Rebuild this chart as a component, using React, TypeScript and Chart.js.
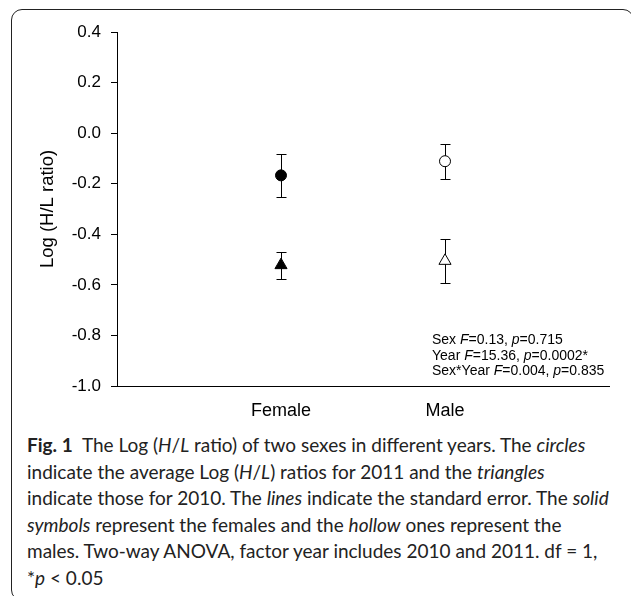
import React, { useEffect, useRef } from 'react';
import { Chart, registerables } from 'chart.js';

Chart.register(...registerables);

const categories = ['Female', 'Male'];
const mean2011 = [-0.167, -0.111];
const se2011 = [0.085, 0.07];
const mean2010 = [-0.522, -0.505];
const se2010 = [0.053, 0.087];
const yTicks = [0.4, 0.2, 0.0, -0.2, -0.4, -0.6, -0.8, -1.0];
const markerFill = ['#000000', '#ffffff'];

const errorBarPlugin = {
  id: 'errorBars',
  beforeDatasetsDraw(chart: any) {
    const ctx = chart.ctx;
    const yScale = chart.scales.y;
    ctx.save();
    ctx.strokeStyle = '#000';
    ctx.lineWidth = 1;
    chart.data.datasets.forEach((ds: any, di: number) => {
      const meta = chart.getDatasetMeta(di);
      meta.data.forEach((el: any, i: number) => {
        const v = ds.data[i].y;
        const e = ds.errors[i];
        const x = Math.round(el.x) + 0.5;
        const yTop = Math.round(yScale.getPixelForValue(v + e)) + 0.5;
        const yBot = Math.round(yScale.getPixelForValue(v - e)) + 0.5;
        const cap = 5;
        ctx.beginPath();
        ctx.moveTo(x, yTop);
        ctx.lineTo(x, yBot);
        ctx.moveTo(x - cap, yTop);
        ctx.lineTo(x + cap, yTop);
        ctx.moveTo(x - cap, yBot);
        ctx.lineTo(x + cap, yBot);
        ctx.stroke();
      });
    });
    ctx.restore();
  },
};

function ChartBox() {
  const ref = useRef<HTMLCanvasElement | null>(null);
  useEffect(() => {
    if (!ref.current) return;
    const chart = new Chart(ref.current, {
      type: 'scatter',
      data: {
        datasets: [
          {
            label: '2011',
            data: mean2011.map((v, i) => ({ x: i + 1, y: v })),
            errors: se2011,
            pointStyle: 'circle',
            pointRadius: 5.5,
            pointBackgroundColor: markerFill,
            pointBorderColor: '#000',
            pointBorderWidth: 1,
          } as any,
          {
            label: '2010',
            data: mean2010.map((v, i) => ({ x: i + 1, y: v })),
            errors: se2010,
            pointStyle: 'triangle',
            pointRadius: 7,
            pointBackgroundColor: markerFill,
            pointBorderColor: '#000',
            pointBorderWidth: 1,
          } as any,
        ],
      },
      options: {
        animation: false,
        responsive: false,
        maintainAspectRatio: false,
        layout: { padding: { top: 32, right: 22, left: 0, bottom: 0 } },
        plugins: {
          legend: { display: false },
          tooltip: { enabled: false },
        },
        scales: {
          x: {
            type: 'linear',
            min: 0,
            max: 3,
            afterFit: (axis: any) => {
              axis.height = 44;
            },
            afterBuildTicks: (axis: any) => {
              axis.ticks = categories.map((_, i) => ({ value: i + 1 }));
            },
            grid: { display: false, drawTicks: false },
            border: { display: true, color: '#000', width: 1 },
            ticks: {
              padding: 14,
              color: '#000',
              font: { family: '"Liberation Sans", Arial, sans-serif', size: 18 },
              callback: (v: any) => categories[Math.round(v) - 1] ?? '',
            },
          },
          y: {
            type: 'linear',
            min: -1.0,
            max: 0.4,
            afterFit: (axis: any) => {
              axis.width = 117;
            },
            afterBuildTicks: (axis: any) => {
              axis.ticks = yTicks.map((v) => ({ value: v }));
            },
            grid: {
              drawOnChartArea: false,
              drawTicks: true,
              tickLength: 6,
              color: '#000',
              lineWidth: 1,
            },
            border: { display: true, color: '#000', width: 1 },
            ticks: {
              padding: 10,
              color: '#000',
              font: { family: '"Liberation Sans", Arial, sans-serif', size: 17 },
              callback: (v: any) => Number(v).toFixed(1),
            },
            title: {
              display: true,
              text: 'Log (H/L ratio)',
              color: '#000',
              font: { family: '"Liberation Sans", Arial, sans-serif', size: 18.5 },
              padding: { top: 37, bottom: 0 },
            },
          },
        },
      } as any,
      plugins: [errorBarPlugin],
    });
    return () => chart.destroy();
  }, []);
  return (
    <canvas
      ref={ref}
      width={631}
      height={430}
      style={{ position: 'absolute', left: 0, top: 0, width: 631, height: 430 }}
    />
  );
}

const captionStyle: React.CSSProperties = {
  fontFamily: 'Lato, "Open Sans", sans-serif',
  fontSize: 19,
  lineHeight: '26.5px',
  color: '#222',
  whiteSpace: 'nowrap',
};

export default function App() {
  return (
    <div
      style={{
        position: 'fixed',
        left: 0,
        top: 0,
        width: 631,
        height: 596,
        overflow: 'hidden',
        background: '#fff',
      }}
    >
      <div
        style={{
          position: 'absolute',
          left: 11,
          top: 9,
          width: 623,
          height: 592,
          border: '1.3px solid #222',
          borderRadius: 11,
          boxSizing: 'border-box',
        }}
      />
      <ChartBox />
      <div
        style={{
          position: 'absolute',
          left: 432,
          top: 332,
          fontFamily: '"Liberation Sans", Arial, sans-serif',
          fontSize: 14,
          lineHeight: '15.5px',
          color: '#000',
          whiteSpace: 'nowrap',
        }}
      >
        <div>Sex <i>F</i>=0.13, <i>p</i>=0.715</div>
        <div>Year <i>F</i>=15.36, <i>p</i>=0.0002*</div>
        <div>Sex*Year <i>F</i>=0.004, <i>p</i>=0.835</div>
      </div>
      <div style={{ position: 'absolute', left: 27, top: 432, ...captionStyle }}>
        <div>
          <b>Fig. 1</b>&nbsp;&nbsp;The Log (<i>H</i>/<i>L</i> ratio) of two sexes in different years. The <i>circles</i>
        </div>
        <div>
          indicate the average Log (<i>H</i>/<i>L</i>) ratios for 2011 and the <i>triangles</i>
        </div>
        <div>
          indicate those for 2010. The <i>lines</i> indicate the standard error. The <i>solid</i>
        </div>
        <div>
          <i>symbols</i> represent the females and the <i>hollow</i> ones represent the
        </div>
        <div>males. Two-way ANOVA, factor year includes 2010 and 2011. df = 1,</div>
        <div>
          *<i>p</i> &lt; 0.05
        </div>
      </div>
    </div>
  );
}
